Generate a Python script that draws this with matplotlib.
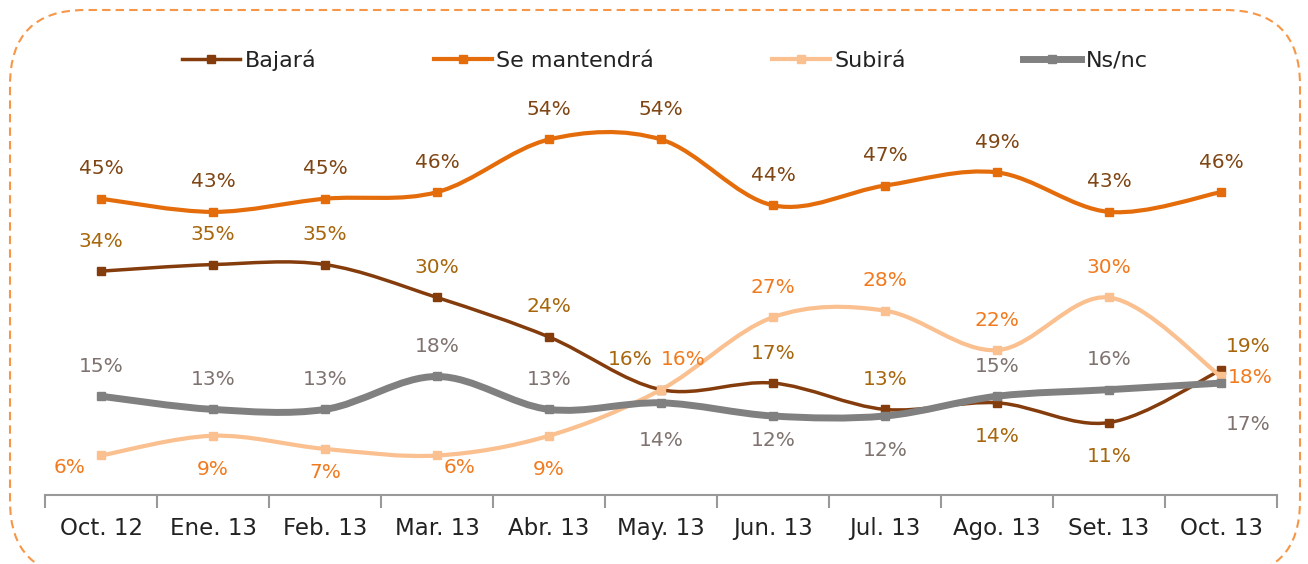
import numpy as np
import matplotlib
matplotlib.use("Agg")
import matplotlib.pyplot as plt
from matplotlib.path import Path
from matplotlib.patches import PathPatch, FancyBboxPatch
from matplotlib.lines import Line2D

plt.rcParams['font.family'] = ['DejaVu Sans']

months = ["Oct. 12", "Ene. 13", "Feb. 13", "Mar. 13", "Abr. 13", "May. 13",
          "Jun. 13", "Jul. 13", "Ago. 13", "Set. 13", "Oct. 13"]
bajara = [34, 35, 35, 30, 24, 16, 17, 13, 14, 11, 19]
mantendra = [45, 43, 45, 46, 54, 54, 44, 47, 49, 43, 46]
subira = [6, 9, 7, 6, 9, 16, 27, 28, 22, 30, 18]
nsnc = [15, 13, 13, 18, 13, 14, 12, 12, 15, 16, 17]
names = ["Bajará", "Se mantendrá", "Subirá", "Ns/nc"]

# label offsets from the point, in pixels (dx, dy up)
A = (0, 30)
B = (0, -34)
off_baj = [A, A, A, A, A, (-31, 30), A, A, B, B, (27, 23)]
off_man = [A] * 11
off_sub = [(-31, -12), B, (0, -24), (23, -12), B, (22, 30), A, A, A, A, (29, -1)]
off_ns = [A, A, A, A, A, (0, -38), (0, -25), (0, -35), A, A, (27, -41)]


def smooth_path(x, y):
    # Excel-like smoothed line as cubic bezier segments
    pts = np.column_stack([x, y]).astype(float)
    n = len(pts)
    verts = [pts[0]]
    codes = [Path.MOVETO]
    for i in range(n - 1):
        p0 = pts[i - 1] if i > 0 else pts[i]
        p1 = pts[i]
        p2 = pts[i + 1]
        p3 = pts[i + 2] if i + 2 < n else pts[i + 1]
        c1 = p1 + (p2 - p0) / 6.0
        c2 = p2 - (p3 - p1) / 6.0
        verts += [c1, c2, p2]
        codes += [Path.CURVE4] * 3
    return Path(verts, codes)


fig = plt.figure(figsize=(13.08, 5.64), dpi=100)
ax = fig.add_axes([45 / 1308, 1 - 495 / 564, (1277 - 45) / 1308, 0.7004])
ax.set_xlim(-0.5, 10.5)
ax.set_ylim(0, 60)

x = np.arange(len(months))
series = [
    (bajara, "#843C0C", 2.5, off_baj, "#A8660C"),
    (mantendra, "#E46C0A", 3.0, off_man, "#7F4512"),
    (subira, "#FAC090", 3.0, off_sub, "#F27A1E"),
    (nsnc, "#808080", 5.0, off_ns, "#7F7370"),
]
draw_order = [3, 2, 0, 1]
for k in draw_order:
    vals, col, lw, offs, lcol = series[k]
    ax.add_patch(PathPatch(smooth_path(x, vals), facecolor="none", edgecolor=col,
                           lw=lw, capstyle="round", zorder=3 + k))
    ax.plot(x, vals, linestyle="none", marker="s", ms=6, color=col, zorder=3 + k)

for vals, col, lw, offs, lcol in series:
    for i, v in enumerate(vals):
        ax.annotate(f"{v}%", (i, v), xytext=offs[i], textcoords="offset pixels",
                    ha="center", va="center", fontsize=14.5,
                    color=lcol, zorder=10)

for s in ["top", "right", "left"]:
    ax.spines[s].set_visible(False)
ax.spines["bottom"].set_color("#999999")
ax.spines["bottom"].set_linewidth(1.5)
ax.set_yticks([])
ax.set_xticks(x)
ax.set_xticklabels(months, fontsize=16.5, color="#222222")
ax.tick_params(axis="x", which="major", length=0, pad=16)
ax.set_xticks(np.arange(-0.5, 11, 1), minor=True)
ax.tick_params(axis="x", which="minor", length=9, width=1.5, color="#999999", direction="out")

handles = [Line2D([], [], color=c, lw=lw, marker="s", ms=6) for _, c, lw, _, _ in series]
fig.legend(handles, names, loc="center", bbox_to_anchor=(665 / 1308, 1 - 60 / 564),
           ncol=4, frameon=False, fontsize=16, handlelength=2.6, handletextpad=0.2,
           columnspacing=5.3, labelcolor="#222222")

frame = FancyBboxPatch((0.1, -0.12), 12.9, 5.66, boxstyle="round,pad=0,rounding_size=0.75",
                       transform=fig.dpi_scale_trans, facecolor="none", edgecolor="#F79646",
                       lw=1.5, linestyle=(0, (4, 2.5)), clip_on=False)
fig.patches.append(frame)

fig.savefig("out.png", dpi=100)
